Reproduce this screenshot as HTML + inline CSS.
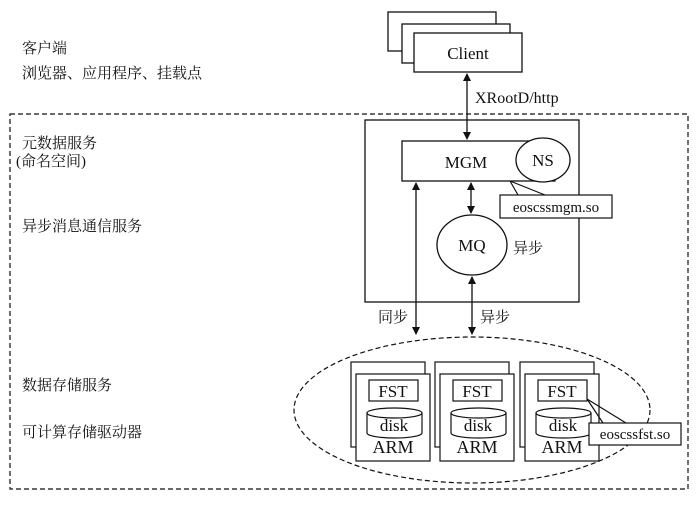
<!DOCTYPE html>
<html><head><meta charset="utf-8"><style>
body{margin:0;background:#fff;width:700px;height:501px;overflow:hidden}
text{font-family:"Liberation Serif","Noto Serif CJK SC",serif;fill:#111}
.c{font-family:"Liberation Serif","Noto Serif CJK SC",serif;font-size:15px}
</style></head><body>
<svg width="700" height="501" viewBox="0 0 700 501" xmlns="http://www.w3.org/2000/svg">
<defs><marker id="a" markerWidth="8" markerHeight="10" refX="7" refY="4" orient="auto-start-reverse" markerUnits="userSpaceOnUse"><path d="M0,0 L8,4 L0,8 z" fill="#111"/></marker></defs>
<g fill="#fff" stroke="#111" stroke-width="1.3">
<rect x="388" y="12" width="108" height="39"/>
<rect x="402" y="24" width="108" height="39"/>
<rect x="414" y="33" width="108" height="39"/>
</g>
<text x="468" y="59" font-size="17" text-anchor="middle">Client</text>
<rect x="10" y="114" width="678" height="375" fill="none" stroke="#111" stroke-width="1.2" stroke-dasharray="5,3"/>
<rect x="365" y="120" width="214" height="182" fill="none" stroke="#111" stroke-width="1.3"/>
<rect x="402" y="141" width="153" height="40" fill="#fff" stroke="#111" stroke-width="1.3"/>
<ellipse cx="543" cy="160" rx="27" ry="22" fill="#fff" stroke="#111" stroke-width="1.3"/>
<text x="466" y="168" font-size="17" text-anchor="middle">MGM</text>
<text x="543" y="166" font-size="17" text-anchor="middle">NS</text>
<line x1="467" y1="74" x2="467" y2="139" stroke="#111" stroke-width="1.3" marker-start="url(#a)" marker-end="url(#a)"/>
<text x="475" y="103" font-size="16">XRootD/http</text>
<line x1="471" y1="183" x2="471" y2="213" stroke="#111" stroke-width="1.3" marker-start="url(#a)" marker-end="url(#a)"/>
<ellipse cx="472" cy="245" rx="35" ry="30" fill="#fff" stroke="#111" stroke-width="1.3"/>
<text x="472" y="251" font-size="17" text-anchor="middle">MQ</text>
<text x="513" y="253" class="c">异步</text>
<path d="M510,181 L518,195 M510,181 L545,195" stroke="#111" stroke-width="1.2" fill="none"/>
<rect x="500" y="195" width="112" height="23" fill="#fff" stroke="#111" stroke-width="1.2"/>
<text x="556" y="212" font-size="15" text-anchor="middle">eoscssmgm.so</text>
<line x1="416" y1="183" x2="416" y2="334" stroke="#111" stroke-width="1.3" marker-start="url(#a)" marker-end="url(#a)"/>
<line x1="472" y1="277" x2="472" y2="334" stroke="#111" stroke-width="1.3" marker-start="url(#a)" marker-end="url(#a)"/>
<text x="378" y="322" class="c">同步</text>
<text x="480" y="322" class="c">异步</text>
<ellipse cx="472" cy="410" rx="178" ry="73" fill="none" stroke="#111" stroke-width="1.2" stroke-dasharray="5,3"/>
<g stroke="#111" stroke-width="1.2" fill="#fff">
<rect x="351" y="362" width="74" height="85"/><rect x="356" y="374" width="74" height="87"/>
<rect x="435" y="362" width="74" height="85"/><rect x="440" y="374" width="74" height="87"/>
<rect x="520" y="362" width="74" height="85"/><rect x="525" y="374" width="74" height="87"/>
</g>
<g id="n">
<rect x="369" y="380" width="49" height="21" fill="#fff" stroke="#111" stroke-width="1.2"/>
<path d="M367,413 L367,433 A27.5,5 0 0 0 422,433 L422,413" fill="#fff" stroke="#111" stroke-width="1.2"/>
<ellipse cx="394.5" cy="413" rx="27.5" ry="5" fill="#fff" stroke="#111" stroke-width="1.2"/>
<text x="393" y="397" font-size="17" text-anchor="middle">FST</text>
<text x="394" y="431" font-size="17" text-anchor="middle">disk</text>
<text x="393" y="453" font-size="18" text-anchor="middle">ARM</text>
</g>
<use href="#n" x="84"/>
<use href="#n" x="169"/>
<path d="M587,399 L603,423 M587,399 L626,423" stroke="#111" stroke-width="1.2" fill="none"/>
<rect x="589" y="423" width="92" height="22" fill="#fff" stroke="#111" stroke-width="1.2"/>
<text x="635" y="439" font-size="15" text-anchor="middle">eoscssfst.so</text>
<text x="22" y="53" class="c">客户端</text>
<text x="22" y="78" class="c">浏览器、应用程序、挂载点</text>
<text x="22" y="148" class="c">元数据服务</text>
<text x="16" y="166" class="c">(命名空间)</text>
<text x="22" y="231" class="c">异步消息通信服务</text>
<text x="22" y="390" class="c">数据存储服务</text>
<text x="22" y="437" class="c">可计算存储驱动器</text>
</svg>
</body></html>
